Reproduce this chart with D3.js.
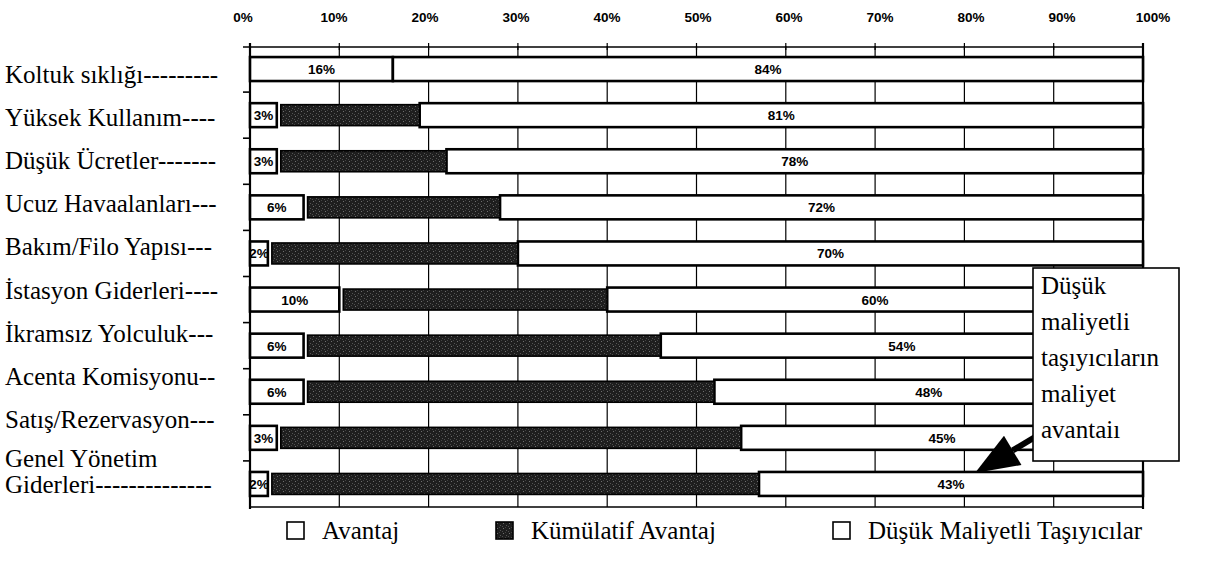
<!DOCTYPE html>
<html>
<head>
<meta charset="utf-8">
<script src="https://cdn.jsdelivr.net/npm/d3@7"></script>
<style>
  body { margin: 0; background: #fff; }
  svg { display: block; }
</style>
</head>
<body>
<svg id="chart" width="1213" height="563"></svg>
<script>
// ---- data ----
const categories = [
  "Koltuk sıklığı---------",
  "Yüksek Kullanım----",
  "Düşük Ücretler-------",
  "Ucuz Havaalanları---",
  "Bakım/Filo Yapısı---",
  "İstasyon Giderleri----",
  "İkramsız Yolculuk---",
  "Acenta Komisyonu--",
  "Satış/Rezervasyon---",
  "Genel Yönetim\nGiderleri--------------"
];
const avantaj          = [16, 3, 3, 6, 2, 10, 6, 6, 3, 2];
const kumulatifAvantaj = [0, 16, 19, 22, 28, 30, 40, 46, 52, 55];
const dusukMaliyetli   = [84, 81, 78, 72, 70, 60, 54, 48, 45, 43];

const tickValues = [0, 10, 20, 30, 40, 50, 60, 70, 80, 90, 100];
const tickLabels = ["0%", "10%", "20%", "30%", "40%", "50%", "60%", "70%", "80%", "90%", "100%"];

const seriesNames = ["Avantaj", "Kümülatif Avantaj", "Düşük Maliyetli Taşıyıcılar"];
const noteLines = ["Düşük", "maliyetli", "taşıyıcıların", "maliyet", "avantaiı"];

// ---- layout ----
const svg = d3.select("#chart");
const plot = { left: 250, right: 1143, top: 46, bottom: 507 };
const serif = "'Liberation Serif', 'Times New Roman', serif";
const sans = "'Liberation Sans', Arial, sans-serif";
const serifSize = 25;
const valueSize = 13.5;

const x = d3.scaleLinear().domain([0, 100]).range([plot.left, plot.right]);
const xText = d3.scaleLinear().domain([0, 100]).range([243, 1153]);
const y = d3.scaleBand().domain(categories)
  .range([plot.top, plot.bottom]).paddingInner(0.48).paddingOuter(0.24);
const yText = d3.scaleBand().domain(categories).range([53.5, 484.5]);

const rows = categories.map((c, i) => ({
  category: c,
  avantaj: avantaj[i],
  kumulatif: kumulatifAvantaj[i],
  dusuk: dusukMaliyetli[i]
}));
const layers = d3.stack().keys(["avantaj", "kumulatif", "dusuk"])(rows);

// grainy dark fill
const defs = svg.append("defs");
const pat = defs.append("pattern").attr("id", "grain")
  .attr("width", 6).attr("height", 5).attr("patternUnits", "userSpaceOnUse");
pat.append("rect").attr("width", 6).attr("height", 5).attr("fill", "#1e1e1e");
[[1, 1, "#6e6e6e"], [4, 3, "#555"], [3, 0, "#444"], [0, 4, "#4c4c4c"]].forEach(([px, py, c]) =>
  pat.append("rect").attr("x", px).attr("y", py).attr("width", 1).attr("height", 1).attr("fill", c));

defs.append("clipPath").attr("id", "labelClip")
  .append("rect").attr("x", 0).attr("y", 0).attr("width", 245).attr("height", 494);

// ---- gridlines ----
svg.append("g").selectAll("line").data(tickValues.slice(1, -1)).join("line")
  .attr("x1", d => x(d)).attr("x2", d => x(d))
  .attr("y1", plot.top).attr("y2", plot.bottom)
  .attr("stroke", "#000").attr("stroke-width", 1.2);

// ---- frame ----
const frame = svg.append("g").attr("stroke", "#000");
frame.append("line").attr("x1", 243).attr("x2", x(100)).attr("y1", 47).attr("y2", 47).attr("stroke-width", 1.6);
frame.append("line").attr("x1", x(0)).attr("x2", x(100)).attr("y1", plot.bottom).attr("y2", plot.bottom).attr("stroke-width", 1.6);
frame.append("line").attr("x1", x(0)).attr("x2", x(0)).attr("y1", 43).attr("y2", plot.bottom + 2).attr("stroke-width", 2.2);
frame.append("line").attr("x1", x(100)).attr("x2", x(100)).attr("y1", 43).attr("y2", plot.bottom + 2).attr("stroke-width", 2.2);

// top axis ticks
frame.append("g").selectAll("line").data(tickValues).join("line")
  .attr("x1", d => x(d)).attr("x2", d => x(d)).attr("y1", 43).attr("y2", 50).attr("stroke-width", 1.2);

// left ticks between bars
const boundaries = d3.range(1, categories.length).map(i => plot.top + i * y.step());
frame.append("g").selectAll("line").data(boundaries).join("line")
  .attr("x1", 243).attr("x2", x(0)).attr("y1", d => d).attr("y2", d => d).attr("stroke-width", 1.6);

// ---- top tick labels ----
svg.append("g").selectAll("text").data(tickValues).join("text")
  .attr("x", d => xText(d)).attr("y", 22)
  .attr("text-anchor", "middle")
  .attr("font-family", sans).attr("font-weight", "bold").attr("font-size", valueSize)
  .text((d, i) => tickLabels[i]);

// ---- bars ----
const bw = y.bandwidth();
const barG = svg.append("g");

// Avantaj segment
barG.append("g").selectAll("rect").data(layers[0]).join("rect")
  .attr("x", d => x(d[0])).attr("width", d => x(d[1]) - x(d[0]))
  .attr("y", d => y(d.data.category)).attr("height", bw)
  .attr("fill", "#fff").attr("stroke", "#000").attr("stroke-width", 2.6);

// Düşük maliyetli segment
barG.append("g").selectAll("rect").data(layers[2]).join("rect")
  .attr("x", d => x(d[0])).attr("width", d => x(d[1]) - x(d[0]))
  .attr("y", d => y(d.data.category)).attr("height", bw)
  .attr("fill", "#fff").attr("stroke", "#000").attr("stroke-width", 2.6);

// Kümülatif avantaj segment
barG.append("g").selectAll("rect").data(layers[1].filter(d => d[1] > d[0])).join("rect")
  .attr("x", d => x(d[0]) + 4).attr("width", d => x(d[1]) - x(d[0]) - 4)
  .attr("y", d => y(d.data.category) + 1.5).attr("height", bw - 3)
  .attr("fill", "url(#grain)").attr("stroke", "#000").attr("stroke-width", 1.6);

// value labels
const labelG = svg.append("g")
  .attr("font-family", sans).attr("font-weight", "bold").attr("font-size", valueSize)
  .attr("text-anchor", "middle");
[layers[0], layers[2]].forEach(layer => {
  labelG.append("g").selectAll("text").data(layer).join("text")
    .attr("x", d => x((d[0] + d[1]) / 2))
    .attr("y", d => y(d.data.category) + bw / 2 + 5)
    .text(d => (d[1] - d[0]) + "%");
});

// ---- category labels ----
const catG = svg.append("g").attr("clip-path", "url(#labelClip)")
  .attr("font-family", serif).attr("font-size", serifSize).attr("fill", "#000");
categories.forEach(c => {
  const lines = c.split("\n");
  const cy = yText(c) + yText.bandwidth() / 2;
  const text = catG.append("text").attr("x", 5);
  lines.forEach((ln, j) => {
    text.append("tspan")
      .attr("x", 5)
      .attr("y", cy + 8 + (lines.length > 1 ? -4 + j * 26 : 0))
      .text(ln);
  });
});

// ---- annotation ----
const arrowStart = [1055, 425], arrowTip = [975, 473];
const dx = arrowTip[0] - arrowStart[0], dy = arrowTip[1] - arrowStart[1];
const len = Math.hypot(dx, dy), ux = dx / len, uy = dy / len;
const headLen = 44, headHalf = 17;
const base = [arrowTip[0] - ux * headLen, arrowTip[1] - uy * headLen];
svg.append("line")
  .attr("x1", arrowStart[0]).attr("y1", arrowStart[1])
  .attr("x2", base[0]).attr("y2", base[1])
  .attr("stroke", "#000").attr("stroke-width", 6);
svg.append("polygon")
  .attr("points", [
    arrowTip,
    [base[0] - uy * headHalf, base[1] + ux * headHalf],
    [base[0] + uy * headHalf, base[1] - ux * headHalf]
  ].map(p => p.join(",")).join(" "))
  .attr("fill", "#000");

svg.append("rect")
  .attr("x", 1033).attr("y", 268).attr("width", 146).attr("height", 193)
  .attr("fill", "#fff").attr("stroke", "#000").attr("stroke-width", 1.6);
svg.append("g").attr("font-family", serif).attr("font-size", serifSize)
  .selectAll("text").data(noteLines).join("text")
  .attr("x", 1041).attr("y", (d, i) => 294 + i * 36)
  .text(d => d);

// ---- legend ----
const legendX = [287, 496, 833];
const legendFill = ["#fff", "url(#grain)", "#fff"];
const legend = svg.append("g").selectAll("g").data(seriesNames).join("g")
  .attr("transform", (d, i) => `translate(${legendX[i]},522)`);
legend.append("rect").attr("width", 17).attr("height", 17)
  .attr("fill", (d, i) => legendFill[i]).attr("stroke", "#000").attr("stroke-width", 1.6);
legend.append("text").attr("x", 35).attr("y", 17)
  .attr("font-family", serif).attr("font-size", serifSize)
  .text(d => d);
</script>
</body>
</html>
